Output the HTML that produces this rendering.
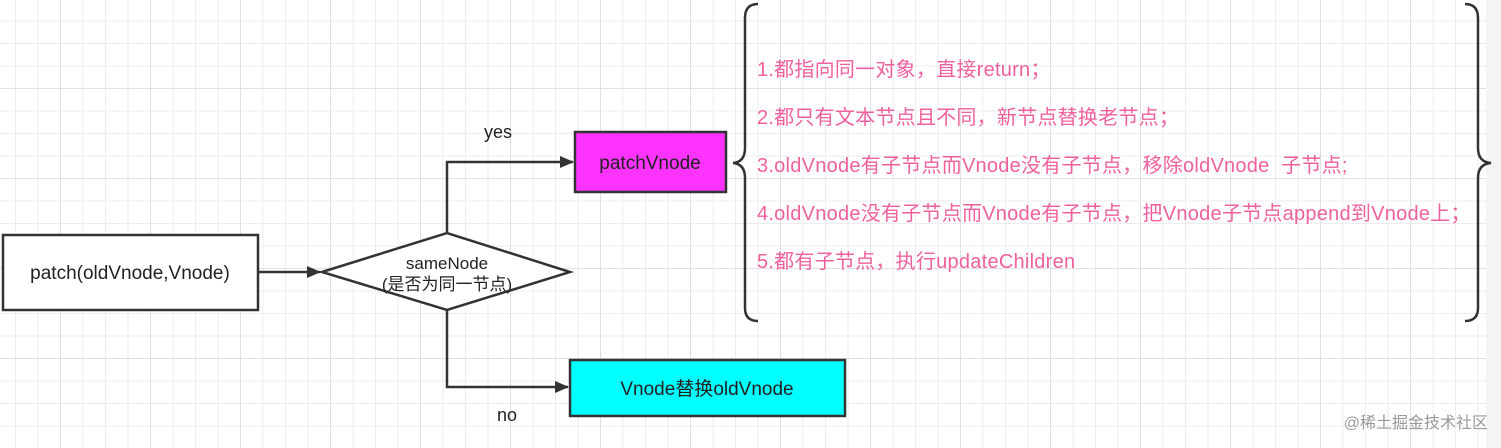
<!DOCTYPE html>
<html><head><meta charset="utf-8"><style>
html,body{margin:0;padding:0}
body{width:1501px;height:448px;overflow:hidden;position:relative;background:#f4f4f4;font-family:"Liberation Sans","Noto Sans CJK SC",sans-serif}
.grid{position:absolute;left:0;top:0;width:1486px;height:448px;background-color:#fff;
background-image:linear-gradient(#e0e0e0 1px,transparent 1px),linear-gradient(90deg,#e0e0e0 1px,transparent 1px),linear-gradient(#ededed 1px,transparent 1px),linear-gradient(90deg,#ededed 1px,transparent 1px);
background-size:90px 90px,90px 90px,22.5px 22.5px,22.5px 22.5px;
background-position:0 88px,60px 0,0 20.5px,15px 0}
svg{position:absolute;left:0;top:0}
.t{position:absolute;color:#f0609f;font-size:20px;left:757px;white-space:nowrap;letter-spacing:0.25px}
</style></head><body>
<div class="grid"></div>
<svg width="1501" height="448">
<defs><marker id="a" markerWidth="14" markerHeight="12" refX="13" refY="6" orient="auto" markerUnits="userSpaceOnUse"><path d="M0,0 L14,6 L0,12 z" fill="#333"/></marker></defs>
<g stroke="#333" stroke-width="2.5" fill="none">
<rect x="3" y="235" width="255" height="75" fill="#fff"/>
<path d="M322,272 L447,233 L570,272 L447,310 Z" fill="#fff"/>
<rect x="575" y="132" width="151" height="60" fill="#ff33ff"/>
<rect x="570" y="360" width="275" height="56" fill="#00ffff"/>
<path d="M258,272 L320,272" marker-end="url(#a)"/>
<path d="M447,233 L447,162 L573,162" marker-end="url(#a)"/>
<path d="M447,310 L447,387 L568,387" marker-end="url(#a)"/>
<path d="M758,4 Q745,4 745,18 L745,148 Q745,162 733,163 Q745,164 745,178 L745,308 Q745,321 758,321"/>
<path d="M1465,4 Q1478,4 1478,18 L1478,148 Q1478,162 1491,163 Q1478,164 1478,178 L1478,308 Q1478,321 1465,321"/>
</g>
<g font-family="Liberation Sans, Noto Sans CJK SC, sans-serif" fill="#222" text-anchor="middle">
<text x="130" y="279" font-size="19">patch(oldVnode,Vnode)</text>
<text x="447" y="269" font-size="17">sameNode</text>
<text x="447" y="290" font-size="17">(是否为同一节点)</text>
<text x="650" y="169" font-size="19">patchVnode</text>
<text x="707" y="395" font-size="19">Vnode替换oldVnode</text>
<text x="498" y="138" font-size="18">yes</text>
<text x="507" y="421" font-size="18">no</text>
</g>
<text x="1488" y="428" text-anchor="end" font-size="16" fill="#999" font-family="Liberation Sans, Noto Sans CJK SC, sans-serif">@稀土掘金技术社区</text>
</svg>
<div class="t" style="top:53px">1.都指向同一对象，直接return；</div>
<div class="t" style="top:101px">2.都只有文本节点且不同，新节点替换老节点；</div>
<div class="t" style="top:149px">3.oldVnode有子节点而Vnode没有子节点，移除oldVnode&nbsp; 子节点;</div>
<div class="t" style="top:197px">4.oldVnode没有子节点而Vnode有子节点，把Vnode子节点append到Vnode上；</div>
<div class="t" style="top:245px">5.都有子节点，执行updateChildren</div>
</body></html>
